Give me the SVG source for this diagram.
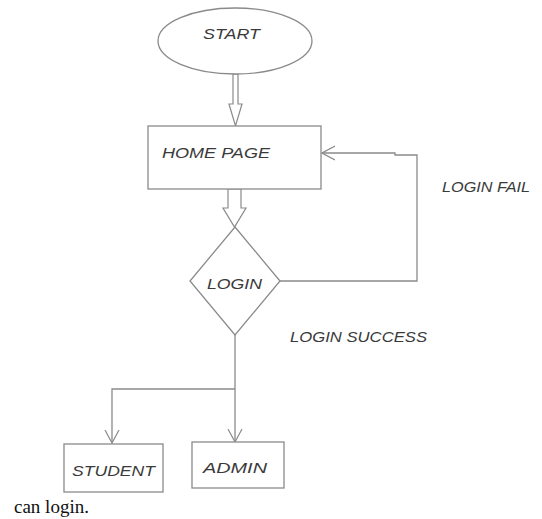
<svg xmlns="http://www.w3.org/2000/svg" width="542" height="519" viewBox="0 0 542 519">
<style>
.shape{fill:#fff;stroke:#8a8a8a;stroke-width:1.3}
.line{fill:none;stroke:#8a8a8a;stroke-width:1.3}
.hollow{fill:#fff;stroke:#8a8a8a;stroke-width:1.2}
.lbl{font-family:"Liberation Sans",Arial,sans-serif;font-style:italic;font-size:14px;fill:#3a3a3a;dominant-baseline:central}
.cap{font-family:"Liberation Serif","Times New Roman",serif;font-size:19px;fill:#111}
</style>
<defs>
<marker id="open" viewBox="0 0 14 16" refX="13" refY="8" markerWidth="14" markerHeight="16" markerUnits="userSpaceOnUse" orient="auto">
<path d="M0,1 L13,8 L0,15" fill="none" stroke="#8a8a8a" stroke-width="1.2"/>
</marker>
</defs>
<rect width="542" height="519" fill="#fff"/>
<g id="connectors">
<path class="hollow" d="M233,74 L238,74 L238,104 L242,104 L235.5,126 L229,104 L233,104 Z"/>
<path class="hollow" d="M228,189 L241,189 L241,208 L246,208 L234.5,227 L223,208 L228,208 Z"/>
<path class="line" d="M280,281 L417,281 L417,155 L395,155 L395,153 L322,153" marker-end="url(#open)"/>
<path class="line" d="M235,335 L235,442" marker-end="url(#open)"/>
<path class="line" d="M235,389 L112,389 L112,443" marker-end="url(#open)"/>
<text class="lbl" x="442" y="187" textLength="88" lengthAdjust="spacingAndGlyphs">LOGIN FAIL</text>
<text class="lbl" x="290" y="337" textLength="137" lengthAdjust="spacingAndGlyphs">LOGIN SUCCESS</text>
</g>
<g id="start">
<ellipse class="shape" cx="235" cy="41" rx="77" ry="33"/>
<text class="lbl" x="203" y="34" textLength="57" lengthAdjust="spacingAndGlyphs">START</text>
</g>
<g id="home">
<rect class="shape" x="148" y="126" width="173" height="63"/>
<text class="lbl" x="162" y="153" textLength="108" lengthAdjust="spacingAndGlyphs">HOME PAGE</text>
</g>
<g id="login">
<path class="shape" d="M235,227 L280,281 L235,335 L190,281 Z"/>
<text class="lbl" x="207" y="284" textLength="55" lengthAdjust="spacingAndGlyphs">LOGIN</text>
</g>
<g id="student">
<rect class="shape" x="64" y="444" width="99" height="48"/>
<text class="lbl" x="72" y="471" textLength="83" lengthAdjust="spacingAndGlyphs">STUDENT</text>
</g>
<g id="admin">
<rect class="shape" x="192" y="442" width="92" height="46"/>
<text class="lbl" x="203" y="468" textLength="64" lengthAdjust="spacingAndGlyphs">ADMIN</text>
</g>
<text class="cap" x="14" y="513">can login.</text>
</svg>
